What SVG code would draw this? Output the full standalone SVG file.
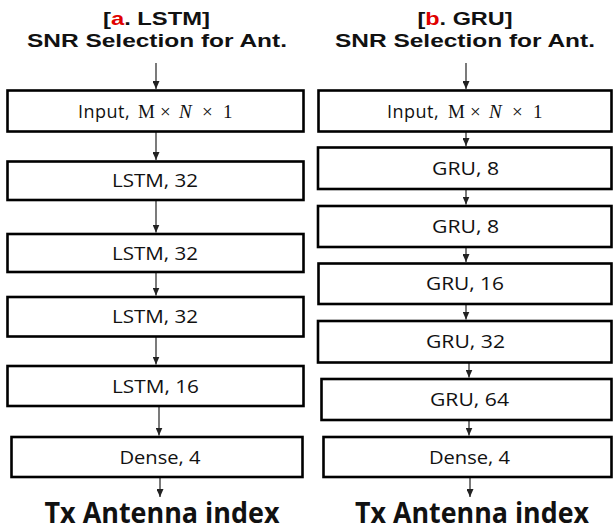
<svg xmlns="http://www.w3.org/2000/svg" width="614" height="530" viewBox="0 0 614 530">
<style>
.box{fill:#fff;stroke:#000;stroke-width:2.6}
.lbl{font-family:"Open Sans","Noto Sans","Liberation Sans",sans-serif;font-size:18px;fill:#111;text-anchor:middle}
.math{font-family:"Liberation Serif","DejaVu Serif",serif;font-size:19px;fill:#111}
.ttl{font-family:"Liberation Sans",Arial,sans-serif;font-weight:bold;font-size:19px;fill:#111;text-anchor:middle}
.big{font-family:"Open Sans","Noto Sans","Liberation Sans",sans-serif;font-weight:bold;font-size:28px;fill:#111;text-anchor:middle}
.red{fill:#e00000}
.con line{stroke:#333;stroke-width:1.3;marker-end:url(#ah)}
</style>
<defs>
<marker id="ah" markerUnits="userSpaceOnUse" markerWidth="8" markerHeight="7" refX="8" refY="3.5" orient="auto" viewBox="0 0 8 7">
<path d="M0,0 L8,3.5 L0,7 Z" fill="#222"/>
</marker>
</defs>
<rect width="614" height="530" fill="#fff"/>

<g id="title_a">
<text class="ttl" x="156.5" y="25" textLength="107" lengthAdjust="spacingAndGlyphs">[<tspan class="red">a</tspan>. LSTM]</text>
<text class="ttl" x="157" y="47" textLength="260" lengthAdjust="spacingAndGlyphs">SNR Selection for Ant.</text>
</g>
<g id="title_b">
<text class="ttl" x="465" y="25" textLength="95" lengthAdjust="spacingAndGlyphs">[<tspan class="red">b</tspan>. GRU]</text>
<text class="ttl" x="465" y="47" textLength="260" lengthAdjust="spacingAndGlyphs">SNR Selection for Ant.</text>
</g>

<g class="con" id="connectors">
<line x1="156" y1="63" x2="156" y2="89"/>
<line x1="156" y1="132" x2="156" y2="160"/>
<line x1="156" y1="200.5" x2="156" y2="232.5"/>
<line x1="156" y1="272.5" x2="156" y2="295.5"/>
<line x1="156" y1="337" x2="156" y2="364.5"/>
<line x1="159" y1="406.5" x2="159" y2="435.5"/>
<line x1="160" y1="477.5" x2="160" y2="497"/>
<line x1="466" y1="63" x2="466" y2="89"/>
<line x1="466" y1="132" x2="466" y2="146"/>
<line x1="466" y1="189.5" x2="466" y2="204.5"/>
<line x1="466" y1="247.5" x2="466" y2="262"/>
<line x1="466" y1="304.5" x2="466" y2="319.5"/>
<line x1="469" y1="363" x2="469" y2="377.5"/>
<line x1="469" y1="420.5" x2="469" y2="435.5"/>
<line x1="470" y1="477.5" x2="470" y2="497"/>
</g>

<g id="in_a">
<rect class="box" x="7.5" y="90.5" width="296" height="41"/>
<text class="lbl" x="78" y="118" style="text-anchor:start" letter-spacing="0.5">Input,</text>
<text class="math" y="118"><tspan x="138">M</tspan><tspan x="160">×</tspan><tspan x="179" font-style="italic">N</tspan><tspan x="202">×</tspan><tspan x="223">1</tspan></text>
</g>
<g id="lstm1"><rect class="box" x="7.5" y="161.5" width="296" height="38.5"/><text class="lbl" x="155" y="187" textLength="86" lengthAdjust="spacingAndGlyphs">LSTM, 32</text></g>
<g id="lstm2"><rect class="box" x="7.5" y="234" width="296" height="38"/><text class="lbl" x="155" y="259.5" textLength="86" lengthAdjust="spacingAndGlyphs">LSTM, 32</text></g>
<g id="lstm3"><rect class="box" x="7.5" y="297" width="296" height="39.5"/><text class="lbl" x="155" y="323" textLength="86" lengthAdjust="spacingAndGlyphs">LSTM, 32</text></g>
<g id="lstm4"><rect class="box" x="7.5" y="366" width="296" height="40"/><text class="lbl" x="155.5" y="392.5" textLength="87" lengthAdjust="spacingAndGlyphs">LSTM, 16</text></g>
<g id="dense_a"><rect class="box" x="11.5" y="437" width="291" height="40"/><text class="lbl" x="160" y="463.5" textLength="81" lengthAdjust="spacingAndGlyphs">Dense, 4</text></g>
<g id="out_a"><text class="big" x="162" y="523" textLength="235" lengthAdjust="spacingAndGlyphs">Tx Antenna index</text></g>

<g id="in_b">
<rect class="box" x="318.5" y="90.5" width="293" height="41"/>
<text class="lbl" x="387" y="118" style="text-anchor:start" letter-spacing="0.5">Input,</text>
<text class="math" y="118"><tspan x="448">M</tspan><tspan x="470">×</tspan><tspan x="489" font-style="italic">N</tspan><tspan x="512">×</tspan><tspan x="533">1</tspan></text>
</g>
<g id="gru1"><rect class="box" x="318" y="147.5" width="293.5" height="41.5"/><text class="lbl" x="465.5" y="174.5" textLength="67" lengthAdjust="spacingAndGlyphs">GRU, 8</text></g>
<g id="gru2"><rect class="box" x="318" y="206" width="293.5" height="41"/><text class="lbl" x="465.5" y="233" textLength="67" lengthAdjust="spacingAndGlyphs">GRU, 8</text></g>
<g id="gru3"><rect class="box" x="318.5" y="263.5" width="293" height="40.5"/><text class="lbl" x="465" y="290" textLength="78" lengthAdjust="spacingAndGlyphs">GRU, 16</text></g>
<g id="gru4"><rect class="box" x="318" y="321" width="293.5" height="41.5"/><text class="lbl" x="465.5" y="348" textLength="79" lengthAdjust="spacingAndGlyphs">GRU, 32</text></g>
<g id="gru5"><rect class="box" x="321.5" y="379" width="290" height="41"/><text class="lbl" x="469.5" y="406" textLength="79" lengthAdjust="spacingAndGlyphs">GRU, 64</text></g>
<g id="dense_b"><rect class="box" x="323.5" y="437" width="288" height="40"/><text class="lbl" x="469.5" y="463.5" textLength="81" lengthAdjust="spacingAndGlyphs">Dense, 4</text></g>
<g id="out_b"><text class="big" x="472" y="523" textLength="234" lengthAdjust="spacingAndGlyphs">Tx Antenna index</text></g>
</svg>
